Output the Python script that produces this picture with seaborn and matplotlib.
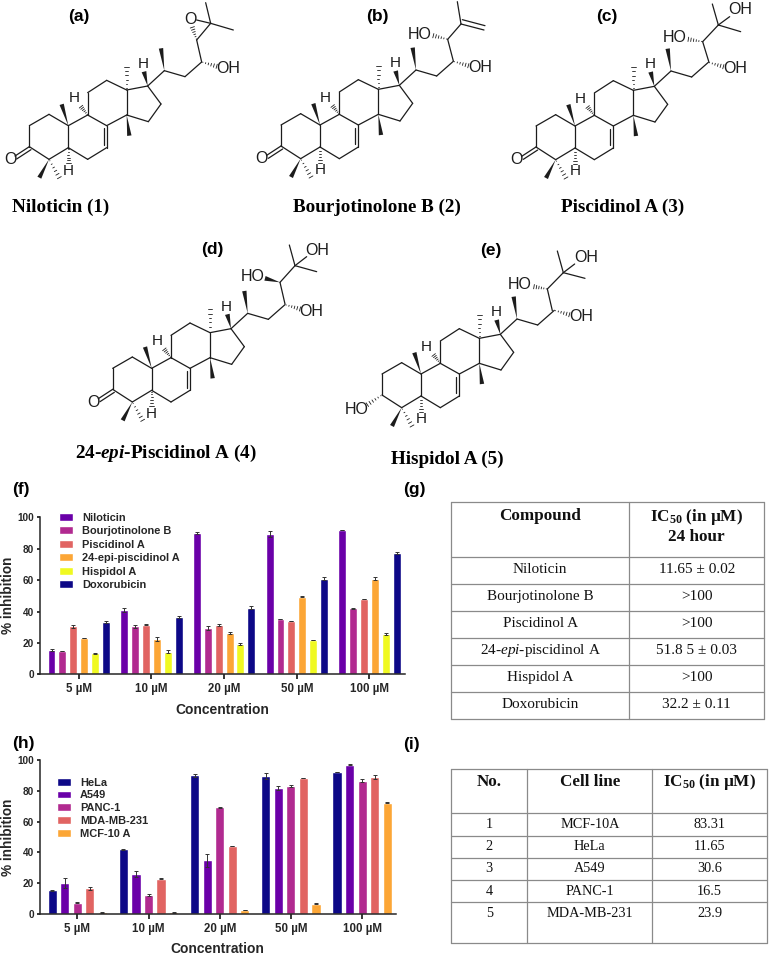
import numpy as np
import pandas as pd
import seaborn as sns
import matplotlib.pyplot as plt
from matplotlib.patches import Polygon

sns.set_style("ticks")
plt.rcParams["font.family"] = ["Liberation Sans", "DejaVu Sans"]
plt.rcParams["mathtext.fontset"] = "custom"
plt.rcParams["mathtext.rm"] = "Liberation Serif"
plt.rcParams["mathtext.it"] = "Liberation Serif:italic"
plt.rcParams["mathtext.bf"] = "Liberation Serif:bold"
plt.rcParams["mathtext.bfit"] = "Liberation Serif:italic:bold"

# data
concentrations = ["5 µM", "10 µM", "20 µM", "50 µM", "100 µM"]

compounds = ["Niloticin", "Bourjotinolone B", "Piscidinol A", "24-epi-piscidinol A", "Hispidol A", "Doxorubicin"]
niloticin = [15.5, 41, 89.8, 89.3, 92]
bourjotinolone = [15, 30.5, 29.5, 35.2, 42]
piscidinol = [30.5, 31.5, 31.5, 34, 48]
epi_piscidinol = [23, 22.5, 26.2, 49.5, 61]
hispidol = [13.3, 14.5, 19.3, 22, 25.5]
doxorubicin = [33.3, 36.5, 42.5, 61, 77]
niloticin_err = [0.4, 1.5, 0.7, 1.8, 0.1]
bourjotinolone_err = [0.1, 0.7, 1.0, 0.1, 0.2]
piscidinol_err = [0.7, 0.3, 0.5, 0.1, 0.1]
epi_piscidinol_err = [0.1, 1.1, 0.5, 0.2, 1.0]
hispidol_err = [0.3, 1.2, 0.6, 0.1, 0.7]
doxorubicin_err = [0.6, 0.5, 0.7, 0.8, 0.6]

cell_lines = ["HeLa", "A549", "PANC-1", "MDA-MB-231", "MCF-10 A"]
hela = [15.5, 42, 89.8, 89.3, 92]
a549 = [20, 26, 34.8, 81.8, 96.7]
panc1 = [7.5, 12.5, 69.2, 83, 86.3]
mda = [16.7, 23, 44.2, 88, 88.7]
mcf10a = [1.2, 1.2, 2.8, 6.8, 72.2]
hela_err = [0.4, 0.1, 0.7, 1.8, 0.1]
a549_err = [3.2, 1.8, 4.0, 1.5, 0.3]
panc1_err = [0.5, 0.7, 0.4, 0.6, 1.0]
mda_err = [0.8, 0.4, 0.1, 0.1, 1.2]
mcf10a_err = [0.1, 0.1, 0.1, 0.3, 0.3]

compound_colors = ["#6A00A8", "#B12A90", "#E16462", "#FCA636", "#F0F921", "#0D0887"]
cell_colors = ["#0D0887", "#6A00A8", "#B12A90", "#E16462", "#FCA636"]

g_header = ["Compound", r"IC$_{\mathbf{50}}$ (in µM)" + "\n24 hour"]
g_names = ["Niloticin", "Bourjotinolone B", "Piscidinol A", r"24-$\mathit{epi}$-piscidinol A", "Hispidol A", "Doxorubicin"]
g_ic50 = ["11.65 ± 0.02", ">100", ">100", "51.8 5 ± 0.03", ">100", "32.2 ± 0.11"]

i_header = ["No.", "Cell line", r"IC$_{\mathbf{50}}$ (in µM)"]
i_no = ["1", "2", "3", "4", "5"]
i_lines = ["MCF-10A", "HeLa", "A549", "PANC-1", "MDA-MB-231"]
i_ic50 = ["83.31", "11.65", "30.6", "16.5", "23.9"]

W, H = 769, 955
fig = plt.figure(figsize=(W / 100, H / 100), dpi=100)
page = fig.add_axes([0, 0, 1, 1])
page.set_xlim(0, W)
page.set_ylim(H, 0)
page.axis("off")


def bar_panel(left, top, right, bottom, names, rows, errs, colors, width, group0, pitch, leg_xy, leg_space, xpad):
    ax = fig.add_axes([left / W, 1 - bottom / H, (right - left) / W, (bottom - top) / H])
    df = pd.DataFrame(rows, index=names, columns=concentrations).reset_index(names="series")
    df = df.melt(id_vars="series", var_name="conc", value_name="value")
    sns.barplot(data=df, x="conc", y="value", hue="series", palette=colors, width=width, gap=0.27,
                saturation=1, errorbar=None, ax=ax)
    for bars, err in zip(ax.containers, errs):
        xs = [b.get_x() + b.get_width() / 2 for b in bars]
        ys = [b.get_height() for b in bars]
        ax.errorbar(xs, ys, yerr=[err, err], fmt="none", ecolor="#333333", elinewidth=0.7,
                    capsize=1.6, capthick=0.7)
    ax.set_xlim((left - group0) / pitch, (right - group0) / pitch)
    ax.set_ylim(0, 100)
    ax.set_yticks([0, 20, 40, 60, 80, 100])
    sns.despine(ax=ax)
    for s in ["left", "bottom"]:
        ax.spines[s].set_linewidth(1.1)
    ax.tick_params(axis="x", length=3.6, width=1.1, labelsize=8.3, pad=3, color="black")
    ax.tick_params(axis="y", length=2.5, width=1.1, labelsize=7.2, pad=1.5, color="black")
    for t in ax.get_xticklabels() + ax.get_yticklabels():
        t.set_fontweight("bold")
    ax.set_xlabel("Concentration", fontsize=10, fontweight="bold", labelpad=xpad)
    ax.set_ylabel("% inhibition", fontsize=9.8, fontweight="bold", labelpad=1.5)
    fs = 7.9
    ax.legend(loc="upper left", bbox_to_anchor=leg_xy, bbox_transform=page.transData, frameon=False,
              title=None, prop={"weight": "bold", "size": fs}, borderpad=0, borderaxespad=0,
              handlelength=1.3, handleheight=0.72, handletextpad=0.8,
              labelspacing=(leg_space - fs * 1.39) / (fs * 1.39))
    return ax


bar_panel(39.5, 517.3, 405, 674.3, compounds,
          [niloticin, bourjotinolone, piscidinol, epi_piscidinol, hispidol, doxorubicin],
          [niloticin_err, bourjotinolone_err, piscidinol_err, epi_piscidinol_err, hispidol_err, doxorubicin_err],
          compound_colors, 0.897, 78.7, 72.7, (59, 512.5), 14.5, 5.5)
bar_panel(39.5, 759.7, 396, 914.3, cell_lines,
          [hela, a549, panc1, mda, mcf10a],
          [hela_err, a549_err, panc1_err, mda_err, mcf10a_err],
          cell_colors, 0.882, 77.3, 71.2, (57, 777.5), 13.8, 5)

# structures, coordinates are 3x zoom units measured from C10
core = {
    "c1": (-58, -34), "c2": (-117, 0), "c3": (-117, 63), "c4": (-58, 101), "c5": (0, 66), "c10": (0, 0),
    "c6": (58, 101), "c7": (115, 66), "c8": (115, 0), "c9": (58, -32), "c11": (58, -99), "c12": (115, -136),
    "c13": (175, -107), "c14": (175, -32), "c15": (240, -12), "c16": (278, -65), "c17": (238, -119),
    "c20": (288, -165), "c22": (350, -147), "c23": (400, -191),
}
core_bonds = ["c1 c2", "c2 c3", "c3 c4", "c4 c5", "c5 c10", "c10 c1", "c5 c6", "c6 c7", "c7 c8", "c8 c9", "c9 c10",
              "c9 c11", "c11 c12", "c12 c13", "c13 c14", "c14 c8", "c14 c15", "c15 c16", "c16 c17", "c17 c13",
              "c17 c20", "c20 c22", "c22 c23"]
INK = "#1c1c1c"


def line(p, q, lw=0.9):
    page.plot([p[0], q[0]], [p[1], q[1]], color=INK, lw=lw, solid_capstyle="round")


def wedge(p, q, w=2.2):
    p, q = np.array(p), np.array(q)
    d = q - p
    n = np.array([-d[1], d[0]]) / np.hypot(*d)
    page.add_patch(Polygon([p, q + n * w, q - n * w], closed=True, color=INK, lw=0))


def hashed(p, q, w=2.2, n=6):
    p, q = np.array(p), np.array(q)
    d = q - p
    u = np.array([-d[1], d[0]]) / np.hypot(*d)
    for t in np.linspace(0.08, 1, n):
        c = p + d * t
        line(c - u * w * t, c + u * w * t, lw=0.6)


def atom(p, s, size=11.5):
    page.text(p[0], p[1], s, ha="center", va="center", fontsize=size, color=INK)


def draw_molecule(ox, oy, x10, y10, hydroxy=False):
    # ox, oy is the crop origin in pixels, x10, y10 is C10 inside the crop
    c10x, c10y = ox + x10 / 3, oy + y10 / 3

    def P(k):
        dx, dy = core[k] if isinstance(k, str) else k
        return c10x + dx / 3, c10y + dy / 3

    for b in core_bonds:
        a, c = b.split()
        line(P(a), P(c))
    # C7=C8
    line(P((106, 8)), P((106, 58)))
    wedge(P("c10"), P((-20, -64)))
    wedge(P("c14"), P((183, 30)))
    hashed(P("c13"), P((175, -177)))
    wedge(P("c4"), P((-87, 156)))
    hashed(P("c4"), P((-27, 156)))
    hashed(P("c5"), P((0, 113)))
    atom(P((0, 136)), "H", 11)
    hashed(P("c9"), P((38, -57)))
    atom(P((17, -82)), "H", 11)
    wedge(P("c17"), P((227, -162)), w=2.4)
    atom(P((225, -185)), "H", 11)
    wedge(P("c20"), P((278, -232)))
    hashed(P("c23"), P((445, -178)))
    atom(P((480, -172)), "OH")
    if hydroxy:
        hashed(P("c3"), P((-161, 92)))
        atom(P((-193, 107)), "HO")
    else:
        line(P("c3"), P((-160, 91)))
        line(P((-112, 72)), P((-155, 100)))
        atom(P((-175, 101)), "O")
    return P


# (a) epoxide
P = draw_molecule(0, 0, 205, 377)
line(P((400, -191)), P((385, -257)))
hashed(P((385, -257)), P((372, -295)))
line(P((385, -257)), P((427, -307)))
line(P((427, -307)), P((385, -317)))
atom(P((365, -317)), "O")
line(P((427, -307)), P((412, -369)))
line(P((427, -307)), P((495, -287)))

# (b) terminal alkene
P = draw_molecule(260, 0, 180, 375)
line(P((400, -192)), P((383, -257)))
hashed(P((383, -257)), P((340, -268)))
atom(P((300, -272)), "HO")
line(P((383, -257)), P((423, -303)))
line(P((423, -303)), P((412, -370)))
line(P((423, -303)), P((492, -285)))
line(P((427, -316)), P((495, -298)))

# (c) triol
P = draw_molecule(510, 0, 195, 378)
line(P((402, -191)), P((383, -253)))
hashed(P((383, -253)), P((340, -260)))
atom(P((300, -266)), "HO")
line(P((383, -253)), P((430, -303)))
line(P((430, -303)), P((412, -366)))
line(P((430, -303)), P((497, -283)))
line(P((430, -303)), P((464, -328)))
atom(P((497, -348)), "OH")

# (d) 24-epi
P = draw_molecule(60, 225, 275, 430)
line(P((400, -193)), P((385, -258)))
wedge(P((385, -258)), P((340, -270)), w=2.4)
atom(P((303, -275)), "HO")
line(P((385, -258)), P((430, -308)))
line(P((430, -308)), P((413, -370)))
line(P((430, -308)), P((495, -290)))
line(P((430, -308)), P((465, -335)))
atom(P((497, -355)), "OH")

# (e) hispidol
P = draw_molecule(350, 225, 213, 447, hydroxy=True)
line(P((394, -190)), P((379, -255)))
hashed(P((379, -255)), P((339, -262)))
atom(P((295, -270)), "HO")
line(P((379, -255)), P((427, -304)))
line(P((427, -304)), P((409, -369)))
line(P((427, -304)), P((492, -287)))
line(P((427, -304)), P((461, -330)))
atom(P((495, -350)), "OH")

names = [(60.5, 207, "Niloticin (1)"), (377, 207, "Bourjotinolone B (2)"), (622.8, 207, "Piscidinol A (3)"),
         (166, 453, r"24-$\mathbfit{epi}$-Piscidinol A (4)"), (447, 459, "Hispidol A (5)")]
for x, y, s in names:
    page.text(x, y, s, ha="center", va="center", fontsize=13.8, fontweight="bold", family="Liberation Serif",
              color="black")

panels = [(79, 17, "(a)"), (377, 17, "(b)"), (607, 17, "(c)"), (212, 249, "(d)"), (491, 250, "(e)"),
          (21, 489, "(f)"), (414, 489, "(g)"), (23, 743, "(h)"), (411, 744, "(i)")]
for x, y, s in panels:
    page.text(x, y, s, ha="center", va="center", fontsize=12.5, fontweight="bold", color="black")

# tables
GRID = "#8a8a8a"


def hline(x0, x1, y):
    page.plot([x0, x1], [y, y], color=GRID, lw=0.9)


def vline(x, y0, y1):
    page.plot([x, x], [y0, y1], color=GRID, lw=0.9)


def serif(x, y, s, size=11, bold=False, **kw):
    page.text(x, y, s, ha="center", va="center", fontsize=size, family="Liberation Serif",
              fontweight="bold" if bold else "normal", color="#111111", **kw)


# table g
gx = [451, 629.3, 764.3]
gy = [502.3, 557.3, 584.3, 611.3, 638.3, 665.3, 692, 719]
for y in gy:
    hline(gx[0], gx[2], y)
for x in gx:
    vline(x, gy[0], gy[-1])
serif((gx[0] + gx[1]) / 2 - 0.3, 515.5, g_header[0], 12.3, True)
serif((gx[1] + gx[2]) / 2, 526, g_header[1], 12.3, True, linespacing=1.1)
for k, (a, b) in enumerate(zip(g_names, g_ic50)):
    yc = (gy[k + 1] + gy[k + 2]) / 2 - 1
    serif((gx[0] + gx[1]) / 2, yc, a, 11)
    serif((gx[1] + gx[2]) / 2, yc, b, 11)

# table i
ix = [451, 527.3, 652.3, 766.7]
iy = [769.3, 813.3, 835.7, 857.7, 880, 902, 942.7]
for y in iy:
    hline(ix[0], ix[3], y)
for x in ix:
    vline(x, iy[0], iy[-1])
for k, s in enumerate(i_header):
    serif((ix[k] + ix[k + 1]) / 2, 781.5, s, 12.3, True)
for k in range(5):
    yc = iy[k + 1] + 11
    serif((ix[0] + ix[1]) / 2, yc, i_no[k], 10.3)
    serif((ix[1] + ix[2]) / 2, yc, i_lines[k], 10.3)
    serif((ix[2] + ix[3]) / 2, yc, i_ic50[k], 10.3)

fig.savefig("out.png", dpi=100)
